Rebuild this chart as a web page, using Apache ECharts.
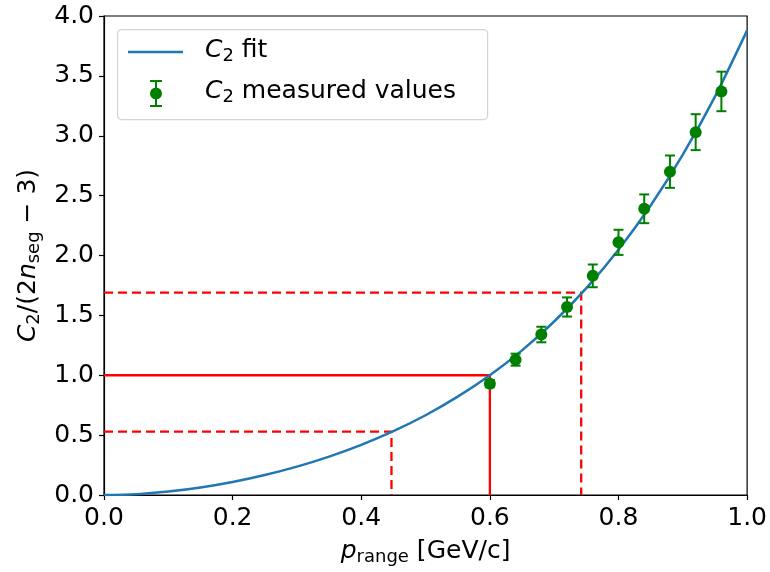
<!DOCTYPE html>
<html>
<head>
<meta charset="utf-8">
<script src="https://cdn.jsdelivr.net/npm/echarts@6/dist/echarts.min.js"></script>
<style>
  html, body { margin: 0; padding: 0; background: #fff; }
  #chart { width: 770px; height: 572px; }
</style>
</head>
<body>
<div id="chart"></div>
<script>
// Fitted curve C2/(2n_seg - 3) sampled along p_range
const fitP = [0, 0.05, 0.10, 0.15, 0.20, 0.25, 0.30, 0.35, 0.40, 0.45, 0.50,
              0.55, 0.60, 0.65, 0.70, 0.75, 0.80, 0.85, 0.90, 0.95, 1.00];
const fitC = [0, 0.007, 0.029, 0.063, 0.109, 0.167, 0.237, 0.321, 0.419, 0.533, 0.666,
              0.821, 1.000, 1.208, 1.449, 1.727, 2.048, 2.417, 2.842, 3.327, 3.880];

// Measured values with their uncertainties
const measP   = [0.60, 0.64, 0.68, 0.72, 0.76, 0.80, 0.84, 0.88, 0.92, 0.96];
const measC   = [0.93, 1.13, 1.34, 1.57, 1.83, 2.11, 2.39, 2.70, 3.03, 3.37];
const measErr = [0.03, 0.05, 0.065, 0.08, 0.095, 0.105, 0.12, 0.135, 0.15, 0.165];

// Reference guides: solid at C = 1.0, dashed at C = 0.53 and C = 1.69
const guideSolid  = [[0, 1.0], [0.6, 1.0], [0.6, 0]];
const guideLow    = [[0, 0.53], [0.447, 0.53], [0.447, 0]];
const guideHigh   = [[0, 1.69], [0.742, 1.69], [0.742, 0]];

const xTicks = { min: 0, max: 1.0, interval: 0.2 };
const yTicks = { min: 0, max: 4.0, interval: 0.5 };

const FONT = 'DejaVu Sans';
const FS = 25;
const SUB = 18;
const BLUE = '#1f77b4';
const GREEN = '#008000';
const RED = '#ff0000';

const chart = echarts.init(document.getElementById('chart'), null, { renderer: 'canvas' });

const errData = measP.map((p, i) => [p, measC[i] - measErr[i], measC[i] + measErr[i]]);

const richText = {
  i: { fontFamily: FONT, fontStyle: 'italic', fontSize: FS, color: '#000' },
  s: { fontFamily: FONT, fontSize: SUB, color: '#000', verticalAlign: 'bottom', padding: [12, 0, 0, 0] }
};
const richGraphic = {
  i: { fontFamily: FONT, fontStyle: 'italic', fontSize: FS, fill: '#000' },
  s: { fontFamily: FONT, fontSize: SUB, fill: '#000', verticalAlign: 'bottom', padding: [12, 0, 0, 0] }
};

const option = {
  animation: false,
  backgroundColor: '#ffffff',
  grid: { left: 104, right: 20, top: 16, bottom: 77, show: true, borderColor: '#000', borderWidth: 1.2, backgroundColor: 'transparent' },
  xAxis: {
    type: 'value',
    min: xTicks.min, max: xTicks.max, interval: xTicks.interval,
    axisLine: { show: true, onZero: false, lineStyle: { color: '#000', width: 1.2 } },
    axisTick: { show: true, inside: false, length: 5, lineStyle: { color: '#000', width: 1.2 } },
    splitLine: { show: false },
    axisLabel: { color: '#000', fontFamily: FONT, fontSize: FS, margin: 11, formatter: v => v.toFixed(1) },
    name: '{i|p}{s|range} [GeV/c]',
    nameLocation: 'middle',
    nameGap: 41,
    nameTextStyle: { color: '#000', fontFamily: FONT, fontSize: FS, rich: richText }
  },
  yAxis: {
    type: 'value',
    min: yTicks.min, max: yTicks.max, interval: yTicks.interval,
    axisLine: { show: true, onZero: false, lineStyle: { color: '#000', width: 1.2 } },
    axisTick: { show: true, inside: false, length: 5, lineStyle: { color: '#000', width: 1.2 } },
    splitLine: { show: false },
    axisLabel: { color: '#000', fontFamily: FONT, fontSize: FS, margin: 10, formatter: v => v.toFixed(1) },
    name: '{i|C}{s|2}/(2{i|n}{s|seg} − 3)',
    nameLocation: 'middle',
    nameGap: 61,
    nameTextStyle: { color: '#000', fontFamily: FONT, fontSize: FS, rich: richText }
  },
  series: [
    {
      name: 'guide-solid', type: 'line', data: guideSolid, symbol: 'none', silent: true, z: 2,
      lineStyle: { color: RED, width: 2.3, type: 'solid' }
    },
    {
      name: 'guide-low', type: 'line', data: guideLow, symbol: 'none', silent: true, z: 2,
      lineStyle: { color: RED, width: 2.3, type: [9, 5] }
    },
    {
      name: 'guide-high', type: 'line', data: guideHigh, symbol: 'none', silent: true, z: 2,
      lineStyle: { color: RED, width: 2.3, type: [9, 5] }
    },
    {
      name: 'fit', type: 'line', smooth: 0.3, symbol: 'none', z: 3,
      data: fitP.map((p, i) => [p, fitC[i]]),
      lineStyle: { color: BLUE, width: 2.5 }
    },
    {
      name: 'errorbars', type: 'custom', z: 4,
      data: errData,
      renderItem: function (params, api) {
        const x = api.value(0);
        const lo = api.coord([x, api.value(1)]);
        const hi = api.coord([x, api.value(2)]);
        const cap = 5;
        const style = { stroke: GREEN, lineWidth: 2 };
        return {
          type: 'group',
          children: [
            { type: 'line', shape: { x1: lo[0], y1: lo[1], x2: hi[0], y2: hi[1] }, style },
            { type: 'line', shape: { x1: lo[0] - cap, y1: lo[1], x2: lo[0] + cap, y2: lo[1] }, style },
            { type: 'line', shape: { x1: hi[0] - cap, y1: hi[1], x2: hi[0] + cap, y2: hi[1] }, style }
          ]
        };
      }
    },
    {
      name: 'measured', type: 'scatter', z: 5,
      data: measP.map((p, i) => [p, measC[i]]),
      symbol: 'circle', symbolSize: 12,
      itemStyle: { color: GREEN, opacity: 1 }
    }
  ],
  graphic: [
    {
      type: 'rect', left: 117, top: 29, z: 10,
      shape: { width: 370, height: 90, r: 4 },
      style: { fill: '#ffffff', stroke: '#d4d4d4', lineWidth: 1.2 }
    },
    {
      type: 'line', z: 11,
      shape: { x1: 128, y1: 52, x2: 183, y2: 52 },
      style: { stroke: BLUE, lineWidth: 2.5 }
    },
    { type: 'line', z: 11, shape: { x1: 156, y1: 81, x2: 156, y2: 106 }, style: { stroke: GREEN, lineWidth: 2 } },
    { type: 'line', z: 11, shape: { x1: 150, y1: 81, x2: 162, y2: 81 }, style: { stroke: GREEN, lineWidth: 2 } },
    { type: 'line', z: 11, shape: { x1: 150, y1: 106, x2: 162, y2: 106 }, style: { stroke: GREEN, lineWidth: 2 } },
    { type: 'circle', z: 12, shape: { cx: 156, cy: 93.5, r: 6 }, style: { fill: GREEN } },
    {
      type: 'text', left: 205, top: 38, z: 11,
      style: { text: '{i|C}{s|2} fit', fontFamily: FONT, fontSize: FS, fill: '#000', rich: richGraphic }
    },
    {
      type: 'text', left: 205, top: 79, z: 11,
      style: { text: '{i|C}{s|2} measured values', fontFamily: FONT, fontSize: FS, fill: '#000', rich: richGraphic }
    }
  ]
};

chart.setOption(option);
</script>
</body>
</html>
